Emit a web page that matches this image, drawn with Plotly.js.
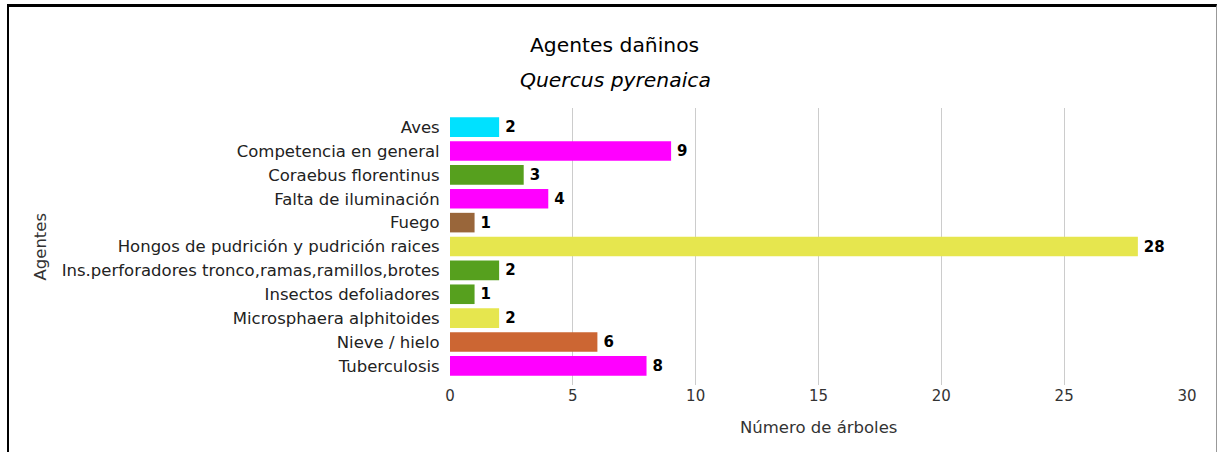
<!DOCTYPE html>
<html>
<head>
<meta charset="utf-8">
<script src="https://cdn.plot.ly/plotly-3.0.1.min.js"></script>
<style>
html,body{margin:0;padding:0;background:#fff;}
#frame{position:absolute;left:7px;top:4px;width:1210px;height:460px;border-left:2px solid #000;border-top:3px solid #000;border-right:1px solid #999;box-sizing:border-box;pointer-events:none;z-index:10;}
#chart{position:absolute;left:0;top:0;width:1219px;height:452px;}
</style>
</head>
<body>
<div id="chart"></div>
<div id="frame"></div>
<script>
var categories = ["Aves","Competencia en general","Coraebus florentinus","Falta de iluminación","Fuego","Hongos de pudrición y pudrición raices","Ins.perforadores tronco,ramas,ramillos,brotes","Insectos defoliadores","Microsphaera alphitoides","Nieve / hielo","Tuberculosis"];
var values = [2,9,3,4,1,28,2,1,2,6,8];
var colors = ["#00E1FF","#FF00FF","#56A01E","#FF00FF","#99663A","#E6E64E","#56A01E","#56A01E","#E6E64E","#CC6633","#FF00FF"];
var xTicks = [0,5,10,15,20,25,30];

var font = "DejaVu Sans, Verdana, sans-serif";
var trace = {
  type: "bar",
  orientation: "h",
  y: categories,
  x: values,
  marker: {color: colors, line: {width: 0}},
  texttemplate: "\u2009%{x}",
  textposition: "outside",
  constraintext: "none",
  cliponaxis: false,
  textfont: {family: font, size: 15, color: "#000", weight: "bold"},
  hoverinfo: "x+y"
};
var layout = {
  width: 1219, height: 452,
  margin: {l: 450, r: 32, t: 108, b: 67},
  paper_bgcolor: "#fff", plot_bgcolor: "#fff",
  showlegend: false,
  bargap: 0.18,
  font: {family: font, size: 16, color: "#222"},
  xaxis: {
    range: [0, 30], tickvals: xTicks, ticktext: xTicks.map(String),
    showgrid: true, gridcolor: "#cccccc", gridwidth: 1, zeroline: false,
    ticks: "",
    tickfont: {family: font, size: 15, color: "#333"},
    showline: false, fixedrange: true
  },
  yaxis: {
    range: [10.8, -0.8], ticks: "outside", ticklen: 6, tickcolor: "rgba(0,0,0,0)",
    tickfont: {family: font, size: 16.5, color: "#222"}, showgrid: false, showline: false, fixedrange: true
  },
  annotations: [
    {text: "Agentes dañinos", xref: "paper", yref: "paper", x: 0.5, y: 1, yanchor: "middle", showarrow: false, font: {family: font, size: 20.3, color: "#000"}},
    {text: "<i>Quercus pyrenaica</i>", xref: "paper", yref: "paper", x: 0.5, y: 1, yanchor: "middle", showarrow: false, font: {family: font, size: 20.3, color: "#000"}},
    {text: "Número de árboles", xref: "paper", yref: "paper", x: 0.5, y: 0, yanchor: "middle", yshift: -42, showarrow: false, font: {family: font, size: 16.5, color: "#333"}},
    {text: "Agentes", xref: "paper", yref: "paper", x: 0, y: 0.5, xanchor: "center", xshift: -410, textangle: -90, showarrow: false, font: {family: font, size: 16.5, color: "#333"}}
  ]
};
var plotCenter = 450 + (1219 - 450 - 32) / 2;
layout.annotations[0].yshift = 108 - 45;
layout.annotations[0].xshift = 614 - plotCenter;
layout.annotations[1].yshift = 108 - 80;
layout.annotations[1].xshift = 615 - plotCenter;
Plotly.newPlot("chart", [trace], layout, {displayModeBar: false, staticPlot: true});
</script>
</body>
</html>
